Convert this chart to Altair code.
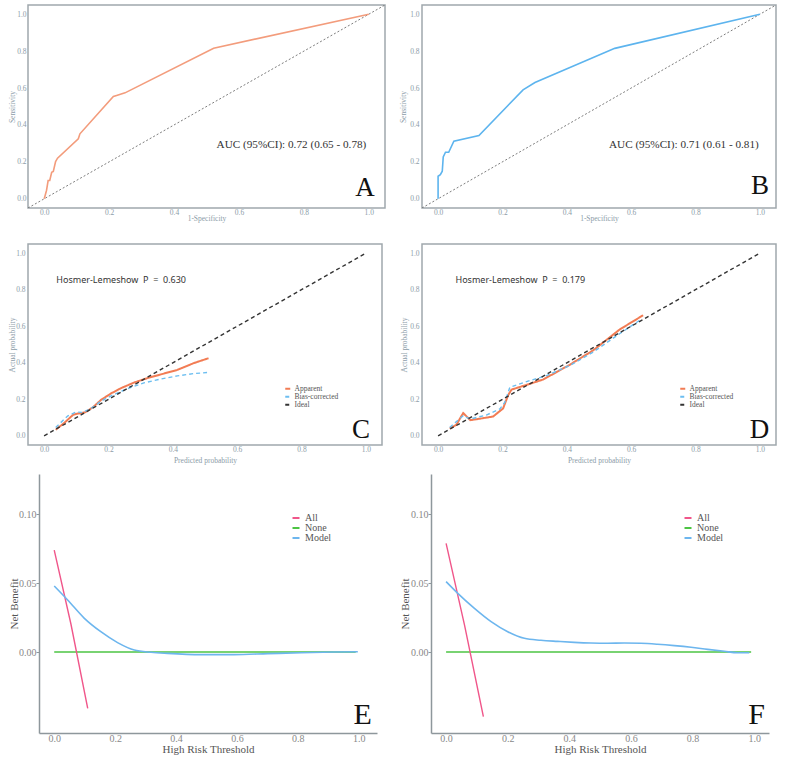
import altair as alt
import pandas as pd

# ---------------- data ----------------
# ROC A (training)
roc_a_fpr = [0, 0.007, 0.012, 0.017, 0.023, 0.028, 0.035, 0.041, 0.105, 0.11, 0.213, 0.223, 0.249, 0.522, 1.0]
roc_a_tpr = [0, 0.045, 0.099, 0.099, 0.144, 0.148, 0.202, 0.22, 0.325, 0.352, 0.554, 0.56, 0.574, 0.816, 1.0]
# ROC B (validation)
roc_b_fpr = [0, 0, 0.007, 0.013, 0.016, 0.023, 0.033, 0.049, 0.127, 0.264, 0.301, 0.549, 1.0]
roc_b_tpr = [0, 0.122, 0.131, 0.149, 0.227, 0.252, 0.252, 0.312, 0.343, 0.59, 0.63, 0.815, 1.0]
diag = [-0.05, 1.05]
auc_a = "AUC (95%CI): 0.72 (0.65 - 0.78)"
auc_b = "AUC (95%CI): 0.71 (0.61 - 0.81)"

# Calibration C
cal_c_app_x = [0.036, 0.064, 0.09, 0.105, 0.126, 0.151, 0.177, 0.208, 0.239, 0.28, 0.321, 0.362, 0.414, 0.465, 0.511]
cal_c_app_y = [0.033, 0.073, 0.115, 0.122, 0.128, 0.155, 0.197, 0.232, 0.261, 0.292, 0.316, 0.336, 0.361, 0.398, 0.425]
cal_c_bc_x = [0.036, 0.074, 0.1, 0.12, 0.146, 0.177, 0.208, 0.26, 0.31, 0.36, 0.414, 0.465, 0.511]
cal_c_bc_y = [0.046, 0.11, 0.131, 0.128, 0.15, 0.19, 0.219, 0.259, 0.29, 0.31, 0.328, 0.341, 0.347]
# Calibration D
cal_d_app_x = [0.036, 0.057, 0.078, 0.1, 0.13, 0.171, 0.202, 0.218, 0.228, 0.275, 0.326, 0.409, 0.482, 0.565, 0.637]
cal_d_app_y = [0.04, 0.061, 0.125, 0.086, 0.094, 0.106, 0.15, 0.224, 0.253, 0.279, 0.308, 0.389, 0.468, 0.583, 0.66]
cal_d_bc_x = [0.036, 0.078, 0.1, 0.15, 0.192, 0.207, 0.223, 0.275, 0.337, 0.409, 0.482, 0.565, 0.627]
cal_d_bc_y = [0.046, 0.11, 0.092, 0.114, 0.147, 0.183, 0.266, 0.297, 0.33, 0.385, 0.459, 0.56, 0.633]
ideal = [0, 1]
NB = "\u00a0"
hl_c = "Hosmer-Lemeshow" + NB * 2 + "P" + NB * 2 + "=" + NB * 2 + "0.630"
hl_d = "Hosmer-Lemeshow" + NB * 2 + "P" + NB * 2 + "=" + NB * 2 + "0.179"
cal_series = ["Apparent", "Bias-corrected", "Ideal"]

# DCA E
dca_e_model_x = [0, 0.044, 0.099, 0.153, 0.208, 0.263, 0.318, 0.372, 0.482, 0.591, 0.701, 0.811, 0.92, 0.997]
dca_e_model_y = [0.0478, 0.0377, 0.0244, 0.0147, 0.0068, 0.0014, -0.0002, -0.001, -0.0019, -0.0019, -0.0012, -0.0005, 0.0, 0.0002]
dca_e_all_x = [0, 0.055, 0.11]
dca_e_all_y = [0.0739, 0.0201, -0.0408]
# DCA F
dca_f_model_x = [0, 0.038, 0.092, 0.146, 0.2, 0.254, 0.308, 0.362, 0.416, 0.47, 0.524, 0.578, 0.632, 0.686, 0.741, 0.795, 0.849, 0.903, 0.946, 0.984]
dca_f_model_y = [0.051, 0.0425, 0.0316, 0.022, 0.0147, 0.0099, 0.0085, 0.0077, 0.007, 0.0065, 0.0063, 0.0065, 0.0063, 0.0056, 0.0046, 0.0034, 0.0019, 0.0005, -0.0005, -0.0005]
dca_f_all_x = [0, 0.06, 0.121]
dca_f_all_y = [0.0787, 0.0193, -0.0469]
dca_none_x = [0, 0.99]
dca_none_y = [0, 0]
dca_series = ["All", "None", "Model"]

letters = ["A", "B", "C", "D", "E", "F"]

# ---------------- style ----------------
SERIF = "Liberation Serif"
SANS = "Noto Sans"
FRAME = "#A0A8AD"
TICKC = "#8C9CA8"
ORANGE_ROC = "#F39C7C"
BLUE_ROC = "#5DB4EE"
ORANGE = "#F27C54"
BLUE = "#6CBEF0"
PINK = "#F0568A"
GREEN = "#4CC443"
BLUE_DCA = "#6DB6EE"


def frame_axis(title, ext, lpad):
    return alt.Axis(
        title=title, values=[0, 0.2, 0.4, 0.6, 0.8, 1.0], format=".1f", grid=False,
        domain=False, ticks=False, tickSize=0,
        labelFont=SERIF, labelFontSize=7.5, labelColor=TICKC, labelPadding=lpad,
        titleFont=SERIF, titleFontSize=7.5, titleColor=TICKC, titleFontWeight="normal",
        titlePadding=0, minExtent=ext, maxExtent=ext,
    )


def enc(xs, ys, xa, ya):
    return dict(x=alt.X("x:Q", scale=xs, axis=xa), y=alt.Y("y:Q", scale=ys, axis=ya))


def roc_panel(fpr, tpr, color, auc_text, auc_pos, letter, letter_pos, yext, ylpad, w, h):
    xs = alt.Scale(domain=[-0.05, 1.05], nice=False, zero=False)
    ys = alt.Scale(domain=[-0.05, 1.05], nice=False, zero=False)
    e = enc(xs, ys, frame_axis("1-Specificity", 6, 0), frame_axis("Sensitivity", yext, ylpad))
    d_line = pd.DataFrame({"x": fpr, "y": tpr, "i": list(range(len(fpr)))})
    d_diag = pd.DataFrame({"x": diag, "y": diag})
    diag_l = alt.Chart(d_diag).mark_line(color="#6E6E6E", strokeDash=[2, 2], strokeWidth=0.9, clip=True).encode(**e)
    line = alt.Chart(d_line).mark_line(color=color, strokeWidth=1.6, clip=True).encode(order="i:Q", **e)
    auc = alt.Chart(pd.DataFrame({"x": [auc_pos[0]], "y": [auc_pos[1]], "t": [auc_text]})).mark_text(
        font=SERIF, fontSize=11.2, align="left", baseline="middle", color="#333333").encode(text="t:N", **e)
    let = alt.Chart(pd.DataFrame({"x": [letter_pos[0]], "y": [letter_pos[1]], "t": [letter]})).mark_text(
        font=SERIF, fontSize=27, align="center", baseline="alphabetic", color="#111111").encode(text="t:N", **e)
    return alt.layer(diag_l, line, auc, let).properties(
        width=w, height=h, view=alt.ViewBackground(stroke=FRAME, strokeWidth=1.5))


def cal_panel(fld, ax, ay, bx, by, hl_text, hl_pos, letter, letter_pos, lx, ly, yext, ylpad, w, h):
    xs = alt.Scale(domain=[-0.05, 1.05], nice=False, zero=False)
    ys = alt.Scale(domain=[-0.05, 1.05], nice=False, zero=False)
    e = enc(xs, ys, frame_axis("Predicted probability", 11, 0), frame_axis("Actual probability", yext, ylpad))
    color = alt.Color(f"{fld}:N", scale=alt.Scale(domain=cal_series, range=[ORANGE, BLUE, "#333333"]),
                      legend=alt.Legend(title=None, orient="none", legendX=lx, legendY=ly, symbolType="stroke",
                                        symbolSize=25, symbolStrokeWidth=2, labelFont=SERIF, labelFontSize=7.5,
                                        labelColor="#555555", labelOffset=3, rowPadding=-2.5, padding=0))
    dash = alt.StrokeDash(f"{fld}:N", scale=alt.Scale(domain=cal_series, range=[[1, 0], [4, 3], [4, 3]]), legend=None)
    d_app = pd.DataFrame({"x": ax, "y": ay, fld: "Apparent", "i": list(range(len(ax)))})
    d_bc = pd.DataFrame({"x": bx, "y": by, fld: "Bias-corrected", "i": list(range(len(bx)))})
    d_id = pd.DataFrame({"x": ideal, "y": ideal, fld: "Ideal", "i": [0, 1]})
    l_app = alt.Chart(d_app).mark_line(strokeWidth=2).encode(color=color, strokeDash=dash, order="i:Q", **e)
    l_bc = alt.Chart(d_bc).mark_line(strokeWidth=1.4).encode(color=color, strokeDash=dash, order="i:Q", **e)
    l_id = alt.Chart(d_id).mark_line(strokeWidth=1.4).encode(color=color, strokeDash=dash, order="i:Q", **e)
    hl = alt.Chart(pd.DataFrame({"x": [hl_pos[0]], "y": [hl_pos[1]], "t": [hl_text]})).mark_text(
        font=SANS, fontSize=9, align="left", baseline="middle", color="#333333").encode(text="t:N", **e)
    let = alt.Chart(pd.DataFrame({"x": [letter_pos[0]], "y": [letter_pos[1]], "t": [letter]})).mark_text(
        font=SERIF, fontSize=27, align="center", baseline="alphabetic", color="#111111").encode(text="t:N", **e)
    return alt.layer(l_app, l_bc, l_id, hl, let).properties(
        width=w, height=h, view=alt.ViewBackground(stroke=FRAME, strokeWidth=1.5))


def dca_axis(title, values, fmt, ext, tsize, lpad, off):
    return alt.Axis(
        title=title, values=values, format=fmt, grid=False, offset=off,
        domain=True, domainColor="#8E979C", domainWidth=1.5, ticks=tsize > 0, tickSize=tsize, tickColor="#8E979C",
        labelFont=SERIF, labelFontSize=10, labelColor="#888888", labelPadding=lpad,
        titleFont=SERIF, titleFontSize=11, titleColor="#555555", titleFontWeight="normal", titlePadding=0,
        minExtent=ext, maxExtent=ext,
    )


def dca_panel(fld, mx, my, ax_, ay_, xdom, inset, letter, letter_pos, lx, ly, yext, w, h):
    # the plot cell starts `inset` px left of the y axis line; x range starts there
    xs = alt.Scale(domain=xdom, nice=False, zero=False, range=[inset, w])
    ys = alt.Scale(domain=[-0.0587, 0.129], nice=False, zero=False)
    e = enc(xs, ys, dca_axis("High Risk Threshold", [0, 0.2, 0.4, 0.6, 0.8, 1.0], ".1f", 10, 0, 0.5, 0),
            dca_axis("Net Benefit", [0, 0.05, 0.10], ".2f", yext, 3, 0, -inset))
    color = alt.Color(f"{fld}:N", scale=alt.Scale(domain=dca_series, range=[PINK, GREEN, BLUE_DCA]),
                      legend=alt.Legend(title=None, orient="none", legendX=lx, legendY=ly, symbolType="stroke",
                                        symbolSize=49, symbolStrokeWidth=2, labelFont=SERIF, labelFontSize=10,
                                        labelColor="#555555", labelOffset=4, rowPadding=-3.3, padding=0))
    d_none = pd.DataFrame({"x": dca_none_x, "y": dca_none_y, fld: "None", "i": [0, 1]})
    d_all = pd.DataFrame({"x": ax_, "y": ay_, fld: "All", "i": list(range(len(ax_)))})
    d_mod = pd.DataFrame({"x": mx, "y": my, fld: "Model", "i": list(range(len(mx)))})
    l_none = alt.Chart(d_none).mark_line(strokeWidth=1.6).encode(color=color, order="i:Q", **e)
    l_all = alt.Chart(d_all).mark_line(strokeWidth=1.4).encode(color=color, order="i:Q", **e)
    l_mod = alt.Chart(d_mod).mark_line(strokeWidth=1.6, interpolate="monotone").encode(color=color, order="i:Q", **e)
    let = alt.Chart(pd.DataFrame({"x": [letter_pos[0]], "y": [letter_pos[1]], "t": [letter]})).mark_text(
        font=SERIF, fontSize=30, align="center", baseline="alphabetic", color="#111111").encode(text="t:N", **e)
    return alt.layer(l_none, l_all, l_mod, let).properties(
        width=w, height=h, view=alt.ViewBackground(stroke="transparent"))


pA = roc_panel(roc_a_fpr, roc_a_tpr, ORANGE_ROC, auc_a, (0.531, 0.292), letters[0], (0.988, 0.016), 12, 2, 357, 203)
pB = roc_panel(roc_b_fpr, roc_b_tpr, BLUE_ROC, auc_b, (0.531, 0.29), letters[1], (1.0, 0.027), 14.5, 3, 354, 203)
pC = cal_panel("sc", cal_c_app_x, cal_c_app_y, cal_c_bc_x, cal_c_bc_y, hl_c, (0.038, 0.852), letters[2], (0.985, -0.01), 256, 141, 12, 3, 354, 201)
pD = cal_panel("sd", cal_d_app_x, cal_d_app_y, cal_d_bc_x, cal_d_bc_y, hl_d, (0.054, 0.852), letters[3], (0.999, -0.01), 257, 141, 14, 3, 354, 201)
pE = dca_panel("se", dca_e_model_x, dca_e_model_y, dca_e_all_x, dca_e_all_y, [-0.05, 1.06], 11, letters[4], (1.013, -0.052), 263, 39, 20, 349, 259)
pF = dca_panel("sf", dca_f_model_x, dca_f_model_y, dca_f_all_x, dca_f_all_y, [-0.049, 1.048], 0, letters[5], (1.008, -0.052), 252, 39, 21, 338, 259)

IND = dict(color="independent", strokeDash="independent", x="independent", y="independent")

row1 = alt.hconcat(pA, pB, spacing=12).resolve_scale(**IND)
row2 = alt.hconcat(pC, pD, spacing=16).resolve_scale(**IND)
row3 = alt.hconcat(pE, pF, spacing=20).resolve_scale(**IND)

top = alt.concat(row1, row2, columns=1, spacing=20, align="none").resolve_scale(**IND)
chart = alt.concat(top, row3, columns=1, spacing=8, align="none").resolve_scale(**IND).properties(
    padding={"left": 7, "top": 4, "right": 0, "bottom": 0}, background="white"
).configure_view(stroke="transparent")

chart.save("out.html", embed_options={"renderer": "svg", "actions": False})
